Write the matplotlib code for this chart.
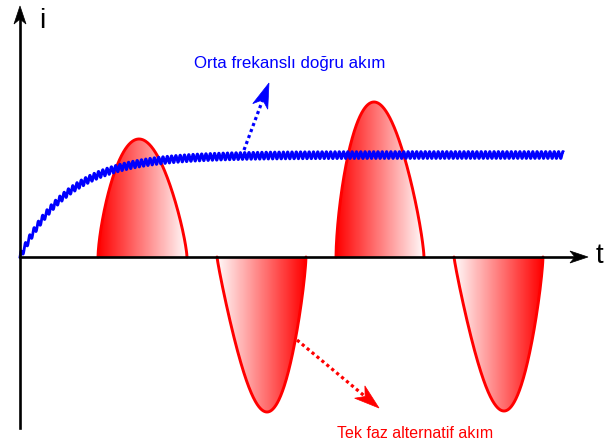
import numpy as np
import matplotlib
matplotlib.use("Agg")
import matplotlib.pyplot as plt
from matplotlib.colors import LinearSegmentedColormap
from matplotlib.patches import Polygon
from matplotlib.transforms import IdentityTransform

# ---- data (drawing units, origin where the axes cross) ----
lobe_start = [78, 197, 316, 434]
lobe_peak_t = [119, 247, 354, 484]
lobe_end = [167, 286, 404, 523]
lobe_amp = [118, -155, 155, -154]

dc_final = 102
dc_tau = 48
dc_end = 543
ripple_amp = 3.5
ripple_period = 4.3

t_axis_end = 568
i_axis_top = 251
i_axis_bottom = -171

dc_label = "Orta frekanslı doğru akım"
ac_label = "Tek faz alternatif akım"
dc_arrow = [(224, 107), (249, 174)]
ac_arrow = [(277, -83), (359, -151)]

fig = plt.figure(figsize=(6.15, 4.41), dpi=100)
ax = fig.add_axes([0, 0, 1, 1])
ax.axis("off")
ax.set_xlim(-20, 595)
ax.set_ylim(-184, 257)
ax.set_autoscale_on(False)

cmap = LinearSegmentedColormap.from_list("wr", ["#ffffff", "#ff0000"])


def lobe(t0, tp, t1, a, n=300):
    u = np.linspace(0, 1, n)
    p = (tp - t0) / (t1 - t0)
    k = np.log(0.5) / np.log(p)
    v = u ** k
    y = a * np.sin(np.pi * v) ** 0.75
    return t0 + u * (t1 - t0), y


for t0, tp, t1, a in zip(lobe_start, lobe_peak_t, lobe_end, lobe_amp):
    x, y = lobe(t0, tp, t1, a)
    poly = Polygon(np.column_stack([x, y]), closed=True, transform=ax.transData)
    grad = np.linspace(1, 0.02, 256) if a > 0 else np.linspace(0.02, 1, 256)
    im = ax.imshow(grad.reshape(1, -1), cmap=cmap, vmin=0, vmax=1,
                   extent=[t0, t1, min(0, a), max(0, a)], aspect="auto",
                   interpolation="bilinear", zorder=1)
    im.set_clip_path(poly)
    ax.plot(x, y, color="#ff0000", lw=2.1, zorder=3, solid_capstyle="round")

# rippled DC
t = np.linspace(0, dc_end, 5000)
i_dc = dc_final * (1 - np.exp(-t / dc_tau)) + ripple_amp * np.sin(2 * np.pi * t / ripple_period)
ax.plot(t, i_dc, color="#0000ff", lw=2.0, zorder=5)

ax.set_xlim(-20, 595)
ax.set_ylim(-184, 257)


def arrow_head(tail, tip, length, width, notch, color, z):
    T = ax.transData
    p0 = np.array(T.transform(tail))
    p1 = np.array(T.transform(tip))
    d = (p1 - p0) / np.hypot(*(p1 - p0))
    nrm = np.array([-d[1], d[0]])
    base = p1 - d * length
    pts = [p1, base + nrm * width / 2, p1 - d * (length - notch), base - nrm * width / 2]
    ax.add_patch(Polygon(pts, closed=True, facecolor=color, edgecolor=color, lw=0.5,
                         transform=IdentityTransform(), zorder=z, clip_on=False))
    back = p1 - d * (length - notch)
    return T.inverted().transform(back)


# axes
end = arrow_head((0, 0), (t_axis_end, 0), 18, 12, 5, "black", 8)
ax.plot([0, end[0]], [0, 0], color="black", lw=1.9, zorder=7)
end = arrow_head((0, i_axis_bottom), (0, i_axis_top), 18, 12, 5, "black", 8)
ax.plot([0, 0], [i_axis_bottom, end[1]], color="black", lw=1.9, zorder=7)

# dotted arrows
end = arrow_head(dc_arrow[0], dc_arrow[1], 25, 16, 7, "#0000ff", 8)
ax.plot([dc_arrow[0][0], end[0]], [dc_arrow[0][1], end[1]], color="#0000ff", lw=2.3,
        linestyle=(0, (1, 1)), zorder=6)
end = arrow_head(ac_arrow[0], ac_arrow[1], 25, 16, 7, "#ff0000", 8)
ax.plot([ac_arrow[0][0], end[0]], [ac_arrow[0][1], end[1]], color="#ff0000", lw=2.3,
        linestyle=(0, (1, 1)), zorder=6)

fam = ["Liberation Sans", "DejaVu Sans"]
ax.text(174, 189, dc_label, color="#0000ff", fontsize=12.2, family=fam, va="baseline", ha="left")
ax.text(317, -181, ac_label, color="#ff0000", fontsize=11.5, family=fam, va="baseline", ha="left")
ax.text(22, 229, "i", color="black", fontsize=20, family=fam, va="baseline", ha="center")
ax.text(579, -6, "t", color="black", fontsize=20, family=fam, va="baseline", ha="center")

fig.savefig("out.png", dpi=100)
